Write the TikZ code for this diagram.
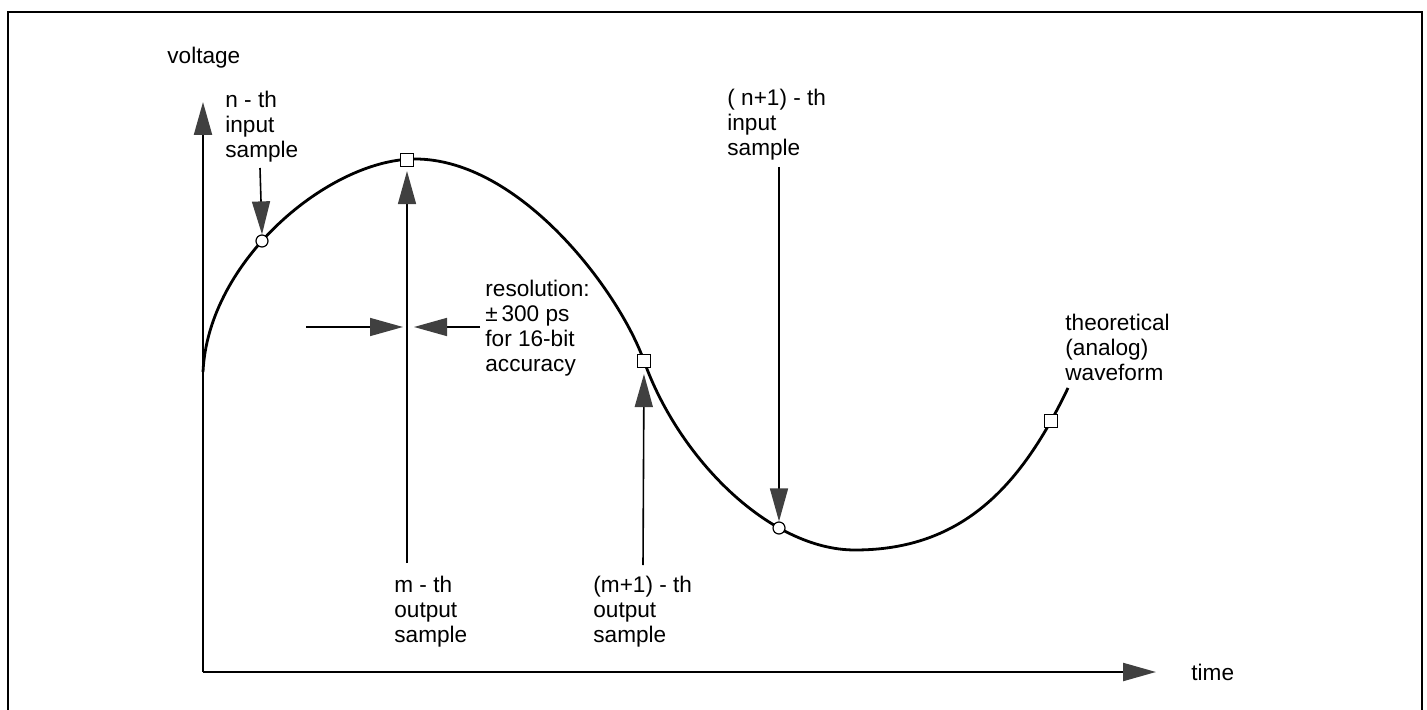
\documentclass[tikz,border=0pt]{standalone}
\usepackage{fontspec}
\setmainfont{Liberation Sans}
\usetikzlibrary{arrows.meta}
\definecolor{headgray}{HTML}{404040}
\tikzset{
  lbl/.style={inner sep=0pt, anchor=west, align=left, font=\fontsize{11.3pt}{12.5pt}\selectfont},
  arr/.style={line width=0.8pt, -{Triangle[length=16.5pt,width=9pt,color=headgray]}},
  axis/.style={line width=1.1pt, -{Triangle[length=16.5pt,width=9pt,color=headgray]}},
  wave/.style={line width=1.4pt},
  insample/.style={circle, draw, fill=white, line width=0.6pt, minimum size=6pt, inner sep=0pt},
  outsample/.style={rectangle, draw, fill=white, line width=0.6pt, minimum size=6.5pt, inner sep=0pt},
  frame/.style={line width=1.2pt}
}
\begin{document}
\begin{tikzpicture}[x=0.5pt,y=-0.5pt]
\useasboundingbox (0,0) rectangle (1427,710);
% frame (open at bottom)
\coordinate (fbl) at (8,712);
\coordinate (ftl) at (8,12);
\coordinate (ftr) at (1422,12);
\coordinate (fbr) at (1422,712);
\draw[frame] (fbl) -- (ftl) -- (ftr) -- (fbr);

% axes
\coordinate (O) at (203,672);
\coordinate (ytip) at (203,102);
\coordinate (xtip) at (1156,672);
\draw[axis] (O) -- (ytip);
\draw[axis] (O) -- (xtip);
\node[lbl] (vlab) at (167,58) {voltage};
\node[lbl] (tlab) at (1191,672) {time};

% waveform
\coordinate (w0) at (203,372);
\coordinate (wpk) at (415,159);
\coordinate (wmid) at (644,361);
\coordinate (wmin) at (855,550);
\coordinate (wend) at (1068,388);
\draw[wave] (w0) .. controls (208,260) and (330,159) .. (wpk)
  .. controls (520,159) and (619,291) .. (wmid)
  .. controls (679,459) and (770,550) .. (wmin)
  .. controls (964,550) and (1022,484) .. (wend);

% sample markers
\node[insample] (in1) at (262,241) {};
\node[insample] (in2) at (779,528) {};
\node[outsample] (out1) at (407,160) {};
\node[outsample] (out2) at (wmid) {};
\node[outsample] (out3) at (1051,421) {};

% n-th input sample
\node[lbl] (nlab) at (225,127) {n - th\\input\\sample};
\coordinate (nstart) at (260,168);
\draw[arr] (nstart) -- (in1.north);

% (n+1)-th input sample
\node[lbl] (n1lab) at (727,125) {( n+1) - th\\input\\sample};
\coordinate (n1start) at (779,167);
\draw[arr] (n1start) -- (in2.north);

% m-th output sample
\coordinate (mstart) at (407,563);
\draw[arr, shorten >=2pt] (mstart) -- (out1.south);
\node[lbl] (mlab) at (394,612) {m - th\\output\\sample};

% (m+1)-th output sample
\coordinate (m1start) at (643,565);
\draw[arr, shorten >=3pt] (m1start) -- (out2.south);
\node[lbl] (m1lab) at (593,612) {(m+1) - th\\output\\sample};

% resolution arrows
\coordinate (rl) at (306,327);
\coordinate (rlt) at (403,327);
\coordinate (rr) at (480,327);
\coordinate (rrt) at (414,327);
\draw[arr] (rl) -- (rlt);
\draw[arr] (rr) -- (rrt);
\node[lbl] (reslab) at (485,328) {resolution:\\±\,300 ps\\for 16-bit\\accuracy};

% theoretical waveform label
\node[lbl] (wlab) at (1065,347) {theoretical\\(analog)\\waveform};
\end{tikzpicture}
\end{document}
